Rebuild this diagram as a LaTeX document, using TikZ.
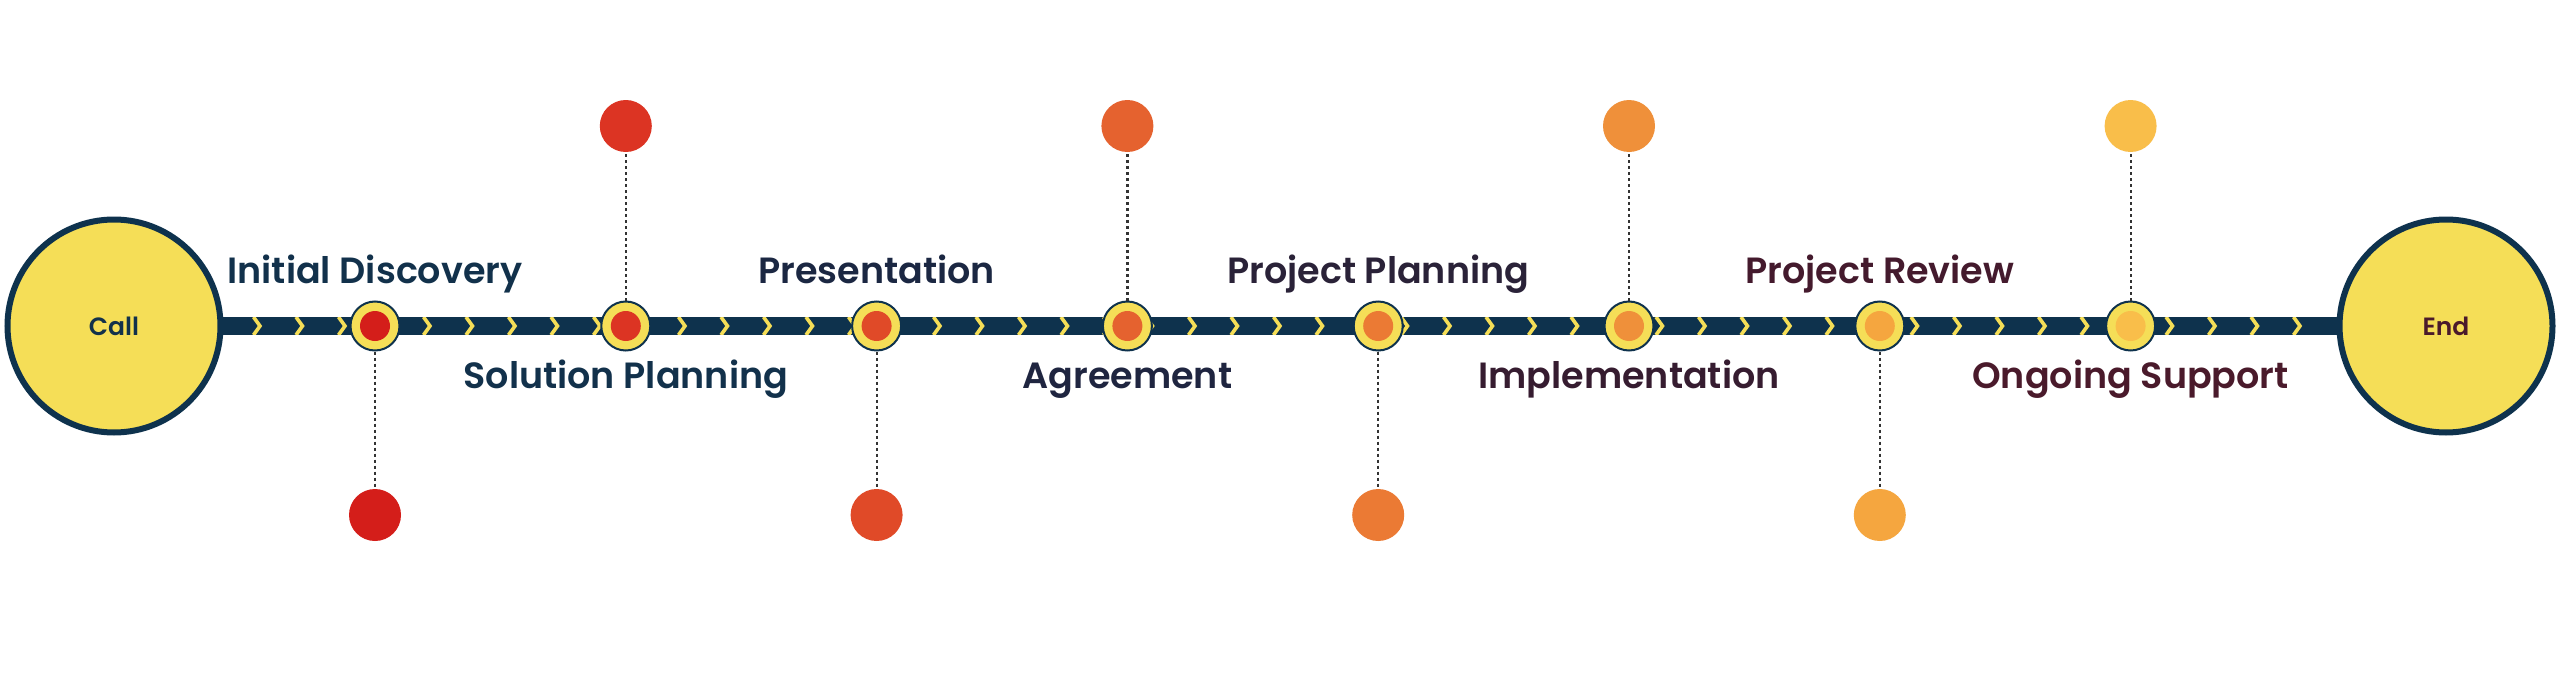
\documentclass[tikz,border=0pt]{standalone}
\usepackage{fontspec}
\newfontfamily\popsb{Poppins SemiBold}
\definecolor{navy}{HTML}{0E324D}
\definecolor{ylw}{HTML}{F5DE57}
\definecolor{dotgray}{HTML}{333333}
\definecolor{c1}{HTML}{D41E1A}
\definecolor{c2}{HTML}{DC3423}
\definecolor{c3}{HTML}{E04A28}
\definecolor{c4}{HTML}{E5622F}
\definecolor{c5}{HTML}{EB7A34}
\definecolor{c6}{HTML}{EF903A}
\definecolor{c7}{HTML}{F5A63F}
\definecolor{c8}{HTML}{F9BE4A}
\definecolor{t1}{HTML}{12314B}
\definecolor{t2}{HTML}{12314B}
\definecolor{t3}{HTML}{1B2742}
\definecolor{t4}{HTML}{1F2540}
\definecolor{t5}{HTML}{2A2238}
\definecolor{t6}{HTML}{361C30}
\definecolor{t7}{HTML}{441A2D}
\definecolor{t8}{HTML}{4A1A2B}
\tikzset{
  bigcirc/.style={circle, draw=navy, line width=6pt, fill=ylw, minimum size=213pt, inner sep=0pt,
    font=\popsb\fontsize{25}{27}\selectfont},
  marker/.style={circle, draw=navy, line width=2pt, fill=ylw, minimum size=49pt, inner sep=0pt},
  innerdot/.style={circle, minimum size=30pt, inner sep=0pt},
  bigdot/.style={circle, minimum size=52pt, inner sep=0pt},
  chev/.style={ylw, line width=3.6pt, line join=miter},
  dotln/.style={dotgray, line width=2.2pt, dash pattern=on 3pt off 3pt},
  lbl/.style={font=\popsb\fontsize{36.5}{40}\selectfont, inner sep=0pt, anchor=base}
}
\begin{document}
\begin{tikzpicture}[x=1pt,y=-1pt]
\fill[white] (0,0) rectangle (2560,685);
\useasboundingbox (0,0) rectangle (2560,685);
\coordinate (bl) at (114,326);
\coordinate (br) at (2446,326);
\draw[navy, line width=17.5pt] (bl) -- (br);
\begin{scope}
\clip (bl) ++(0,-8.75) rectangle (br |- 0,334.75);
\foreach \k in {0,...,48} {
  \pgfmathsetmacro\cx{259+42.5*\k}
  \coordinate (ch\k) at (\cx,326);
  \draw[chev] ([shift={(-5.5,-9)}]ch\k) -- ([shift={(1,0)}]ch\k) -- ([shift={(-5.5,9)}]ch\k);
}
\end{scope}
\node[bigcirc, text=t1] (call) at (bl) {Call};
\node[bigcirc, text=t8] (end) at (br) {End};
\foreach \i/\lab in {0/Initial Discovery,1/Solution Planning,2/Presentation,3/Agreement,4/Project Planning,5/Implementation,6/Project Review,7/Ongoing Support} {
  \pgfmathsetmacro\xx{375+250.8*\i}
  \pgfmathtruncatemacro\n{\i+1}
  \node[marker] (m\i) at (\xx,326) {};
  \node[innerdot, fill=c\n] (mi\i) at (m\i.center) {};
  \ifodd\i
    \node[bigdot, fill=c\n] (d\i) at (\xx,126) {};
    \draw[dotln] (m\i.north) -- (d\i.south);
    \node[lbl, text=t\n] (l\i) at (\xx,388) {\lab};
  \else
    \node[bigdot, fill=c\n] (d\i) at (\xx,515) {};
    \draw[dotln] (m\i.south) -- (d\i.north);
    \node[lbl, text=t\n] (l\i) at (\xx,283) {\lab};
  \fi
}
\end{tikzpicture}
\end{document}
